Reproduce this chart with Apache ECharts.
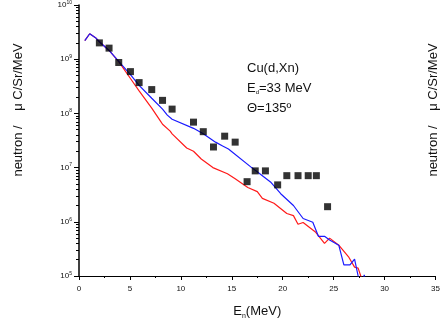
<!DOCTYPE html>
<html>
<head>
<meta charset="utf-8">
<script src="https://cdn.jsdelivr.net/npm/echarts@6/dist/echarts.min.js"></script>
<style>html,body{margin:0;padding:0;background:#fff}#c{width:443px;height:333px}</style>
</head>
<body>
<div id="c"></div>
<script>
// Experimental data: neutron energy (MeV) and yield
const expE = [2.0, 2.95, 3.9, 5.05, 5.9, 7.14, 8.2, 9.14, 11.24, 12.2, 13.2, 14.3, 15.33, 16.5, 17.3, 18.3, 19.5, 20.4, 21.5, 22.5, 23.3, 24.4];
const expY = [2.0e9, 1.6e9, 8.7e8, 5.9e8, 3.7e8, 2.75e8, 1.74e8, 1.2e8, 6.9e7, 4.6e7, 2.4e7, 3.8e7, 2.95e7, 5.5e6, 8.7e6, 8.7e6, 4.8e6, 7.1e6, 7.1e6, 7.1e6, 7.1e6, 1.9e6];

// Calculation 1 (blue)
const blueE = [0.57, 1.05, 1.62, 2.0, 2.95, 3.9, 5.05, 5.9, 7.14, 8.2, 8.67, 9.14, 11.24, 12.2, 13.4, 14.1, 14.67, 16.95, 18.86, 19.8, 21.05, 22.0, 22.95, 23.5, 24.1, 24.6, 25.5, 26.0, 26.6, 27.05, 27.4, 27.6, 28.0, 28.3];
const blueY = [2.2e9, 2.95e9, 2.5e9, 2.1e9, 1.45e9, 9.1e8, 5.2e8, 3.3e8, 1.9e8, 1.2e8, 9.3e7, 7.8e7, 5.3e7, 4.2e7, 2.95e7, 2.5e7, 2.2e7, 1.0e7, 5.3e6, 3.3e6, 2.0e6, 1.15e6, 9.8e5, 5.4e5, 5.4e5, 4.6e5, 3.7e5, 1.6e5, 1.6e5, 2.05e5, 1.0e5, 5e4, 1.05e5, 5e4];

// Calculation 2 (red)
const redE = [0.57, 1.05, 1.62, 2.0, 2.95, 3.9, 5.05, 5.9, 7.14, 8.0, 8.2, 8.95, 9.14, 10.57, 11.24, 12.0, 13.14, 14.57, 15.33, 16.57, 17.5, 18.0, 19.14, 20.4, 21.05, 21.5, 22.0, 23.24, 24.1, 24.6, 25.5, 26.5, 27.05, 27.4, 27.7, 28.0];
const redY = [2.2e9, 2.95e9, 2.5e9, 2.1e9, 1.45e9, 9.0e8, 4.4e8, 2.6e8, 1.25e8, 7.2e7, 6.3e7, 4.7e7, 4.2e7, 2.3e7, 2.0e7, 1.44e7, 1.0e7, 7.7e6, 6.2e6, 4.3e6, 3.6e6, 2.7e6, 2.2e6, 1.42e6, 1.3e6, 9.0e5, 9.7e5, 6.4e5, 4.0e5, 5.0e5, 3.7e5, 2.2e5, 1.46e5, 1.4e5, 9.5e4, 5e4];

const yDecades = [1e5, 1e6, 1e7, 1e8, 1e9, 1e10];

const minorY = [];
for (let d = 5; d < 10; d++) for (let m = 2; m <= 9; m++) minorY.push(m * Math.pow(10, d));

const zip = (a, b) => a.map((v, i) => [v, b[i]]);
const FONT = 'Liberation Sans, Arial, sans-serif';
const TXT = '#111';
const YLABEL = 'neutron /    \u03bc C/Sr/MeV';

const chart = echarts.init(document.getElementById('c'), null, {renderer: 'canvas'});
chart.setOption({
  animation: false,
  backgroundColor: '#fff',
  grid: {left: 79, top: 3, right: -5, bottom: 57, containLabel: false},
  xAxis: {
    type: 'value', min: 0, max: 35, interval: 5,
    name: '{e|E}{n|n}{e|(MeV)}',
    nameLocation: 'middle', nameGap: 27,
    nameTextStyle: {rich: {
      e: {fontSize: 13, fontFamily: FONT, color: TXT},
      n: {fontSize: 7, fontFamily: FONT, color: TXT, verticalAlign: 'bottom', padding: [10, 0, 0, 0]}
    }},
    axisLine: {lineStyle: {color: '#000', width: 1}},
    axisTick: {length: 4, lineStyle: {color: '#000'}},
    minorTick: {show: true, splitNumber: 2, length: 2, lineStyle: {color: '#000'}},
    axisLabel: {fontSize: 8, color: TXT, fontFamily: FONT, margin: 9},
    splitLine: {show: false}
  },
  yAxis: [{
    type: 'log', logBase: 10, min: 1e5, max: 1e10,
    axisLine: {show: true, lineStyle: {color: '#000', width: 1.5}},
    axisTick: {show: true, length: 5, customValues: yDecades, lineStyle: {color: '#000'}},
    axisLabel: {
      customValues: yDecades, margin: 7,
      formatter: v => '{b|10}{s|' + Math.round(Math.log10(v)) + '}',
      rich: {
        b: {fontSize: 8, fontFamily: FONT, color: TXT, lineHeight: 10},
        s: {fontSize: 5, fontFamily: FONT, color: TXT, verticalAlign: 'top', lineHeight: 10}
      }
    },
    splitLine: {show: false}
  }, {
    type: 'log', logBase: 10, min: 1e5, max: 1e10, position: 'left',
    axisLine: {show: false},
    axisTick: {show: true, length: 3, customValues: minorY, lineStyle: {color: '#000'}},
    axisLabel: {show: false},
    splitLine: {show: false}
  }],
  series: [
    {type: 'line', data: zip(redE, redY), showSymbol: false, symbol: 'none',
     lineStyle: {color: '#ff1a1a', width: 1.2}, clip: true, z: 2},
    {type: 'line', data: zip(blueE, blueY), showSymbol: false, symbol: 'none',
     lineStyle: {color: '#1a1aff', width: 1.2}, clip: true, z: 3},
    {type: 'scatter', data: zip(expE, expY), symbol: 'rect', symbolSize: 7,
     itemStyle: {color: '#000'}, z: 4}
  ],
  graphic: [
    {type: 'text', x: 18, y: 110, rotation: Math.PI / 2,
     style: {text: YLABEL, font: '13px ' + FONT, fill: TXT, align: 'center', verticalAlign: 'middle'}},
    {type: 'text', x: 433, y: 110, rotation: Math.PI / 2,
     style: {text: YLABEL, font: '13px ' + FONT, fill: TXT, align: 'center', verticalAlign: 'middle'}},
    {type: 'text', x: 247, y: 68,
     style: {text: 'Cu(d,Xn)', font: '13px ' + FONT, fill: TXT, verticalAlign: 'middle'}},
    {type: 'text', x: 247, y: 88,
     style: {text: '{e|E}{d|d}{e|=33 MeV}', verticalAlign: 'middle',
       rich: {e: {fontSize: 13, fontFamily: FONT, fill: TXT}, d: {fontSize: 6, fontFamily: FONT, fill: TXT, verticalAlign: 'bottom', padding: [9, 0, 0, 0]}}}},
    {type: 'text', x: 247, y: 108,
     style: {text: '\u0398=135\u00ba', font: '13px ' + FONT, fill: TXT, verticalAlign: 'middle'}}
  ]
});
</script>
</body>
</html>
